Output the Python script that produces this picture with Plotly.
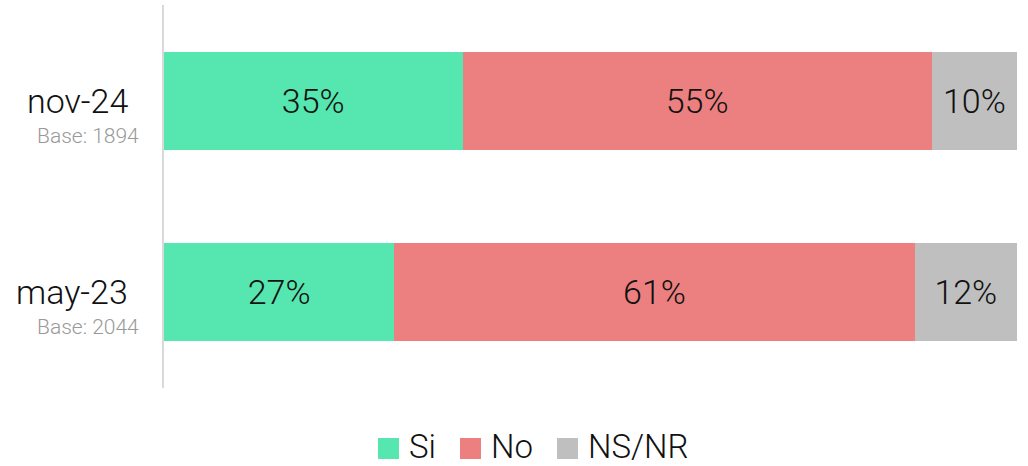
import plotly.graph_objects as go

categories = ["may-23", "nov-24"]
bases = ["2044", "1894"]
series_names = ["Si", "No", "NS/NR"]
si = [27, 35]
no = [61, 55]
nsnr = [12, 10]
colors = ["#56E6AF", "#EC8080", "#BFBFBF"]

W, H = 1028, 466
L, R, T, B = 164, 11, 5, 78
pw, ph = W - L - R, H - T - B

def px2x(px):
    return (px - L) / pw

def py2y(py):
    return (H - B - py) / ph

FONT = "Roboto"

fig = go.Figure()
for name, vals, col in zip(series_names, [si, no, nsnr], colors):
    fig.add_trace(go.Bar(
        y=categories, x=vals, name=name, orientation="h",
        marker=dict(color=col, line=dict(width=0)),
        text=[f"{v}%" for v in vals], textposition="inside", insidetextanchor="middle",
        textfont=dict(size=34, color="#111111", family=FONT, weight=300),
        width=0.51, showlegend=False, hoverinfo="skip",
    ))

annotations = []
for c, b in zip(categories, bases):
    annotations.append(dict(x=px2x(130), xref="paper", y=c, yref="y", text=c, showarrow=False,
                            xanchor="right", yanchor="middle",
                            font=dict(size=34, family=FONT, weight=300, color="#111111")))
    annotations.append(dict(x=px2x(141), xref="paper", y=c, yref="y", text=f"Base: {b}", showarrow=False,
                            xanchor="right", yanchor="middle", yshift=-35,
                            font=dict(size=21, family=FONT, weight=300, color="#999999")))

# manual legend
shapes = []
leg_items = [(378, 407), (460, 489), (557, 586)]
for (sq_x, tx_x), name, col in zip(leg_items, series_names, colors):
    shapes.append(dict(type="rect", xref="paper", yref="paper",
                       x0=px2x(sq_x), x1=px2x(sq_x + 21), y0=py2y(459), y1=py2y(438),
                       fillcolor=col, line=dict(width=0)))
    annotations.append(dict(x=px2x(tx_x), xref="paper", y=py2y(446), yref="paper", text=name,
                            showarrow=False, xanchor="left", yanchor="middle",
                            font=dict(size=33, family=FONT, weight=300, color="#111111")))

fig.update_layout(
    barmode="stack",
    width=W, height=H,
    margin=dict(l=L, r=R, t=T, b=B, autoexpand=False),
    plot_bgcolor="white", paper_bgcolor="white",
    font=dict(family=FONT, weight=300, color="#111111"),
    showlegend=False,
    annotations=annotations, shapes=shapes,
    uniformtext=dict(mode="show", minsize=10),
    hovermode=False,
)
fig.update_xaxes(range=[0, 100], showticklabels=False, showgrid=False, zeroline=False, fixedrange=True)
fig.update_yaxes(range=[-0.5, 1.5], showticklabels=False, fixedrange=True,
                 showline=True, linecolor="#D9D9D9", linewidth=2, showgrid=False, ticks="")

fig.write_html("out.html", config={"displayModeBar": False, "staticPlot": True},
               post_script="document.body.style.margin='0';document.body.style.overflow='hidden';")
